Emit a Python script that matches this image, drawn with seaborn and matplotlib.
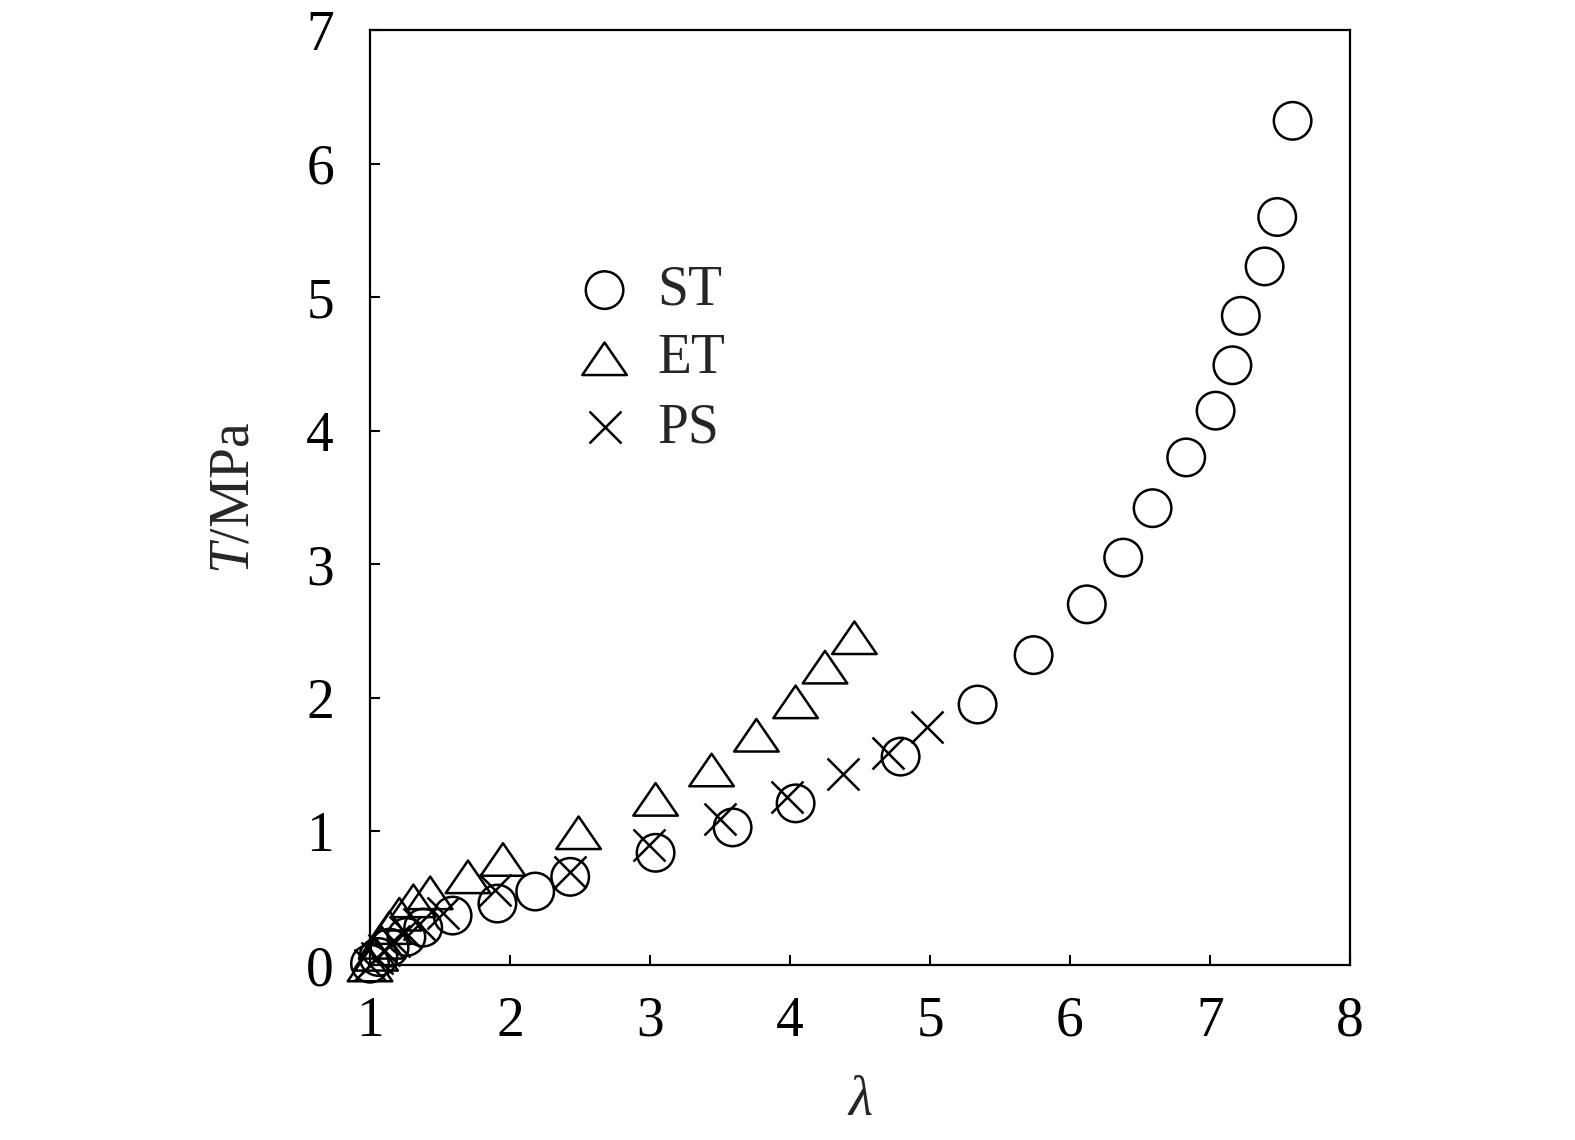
import matplotlib
matplotlib.use("Agg")
import matplotlib.pyplot as plt
import seaborn as sns
import numpy as np
from matplotlib.path import Path

# ---- data ----
st_x = [1.00, 1.06, 1.14, 1.26, 1.38, 1.59, 1.91, 2.18, 2.43, 3.04, 3.59, 4.04, 4.79,
        5.34, 5.74, 6.12, 6.38, 6.59, 6.83, 7.04, 7.16, 7.22, 7.39, 7.48, 7.59]
st_y = [0.01, 0.06, 0.13, 0.21, 0.28, 0.37, 0.46, 0.55, 0.66, 0.84, 1.03, 1.21, 1.56,
        1.95, 2.32, 2.70, 3.05, 3.42, 3.80, 4.15, 4.49, 4.86, 5.23, 5.60, 6.32]

et_x = [1.00, 1.04, 1.08, 1.14, 1.21, 1.31, 1.43, 1.70, 1.95, 2.49, 3.04, 3.44, 3.76,
        4.04, 4.25, 4.46]
et_y = [0.00, 0.08, 0.17, 0.28, 0.38, 0.48, 0.54, 0.66, 0.79, 0.99, 1.24, 1.46, 1.72,
        1.97, 2.23, 2.45]

ps_x = [1.00, 1.05, 1.10, 1.17, 1.25, 1.35, 1.52, 1.89, 2.43, 2.99, 3.50, 3.98, 4.38,
        4.70, 4.98]
ps_y = [0.00, 0.05, 0.11, 0.18, 0.25, 0.31, 0.39, 0.56, 0.70, 0.90, 1.09, 1.26, 1.43,
        1.59, 1.78]

labels = ["ST", "ET", "PS"]
x_ticks = [1, 2, 3, 4, 5, 6, 7, 8]
y_ticks = [0, 1, 2, 3, 4, 5, 6, 7]

sns.set_style("ticks")
plt.rcParams["font.family"] = ["Liberation Serif", "DejaVu Serif"]
plt.rcParams["mathtext.fontset"] = "custom"
plt.rcParams["mathtext.rm"] = "Liberation Serif"
plt.rcParams["mathtext.it"] = "Liberation Serif:italic"

fig = plt.figure(figsize=(15.75, 11.4), dpi=100)
ax = fig.add_axes([370/1575, 1 - 965/1140, 980/1575, 935/1140])

tri = Path([(0, 0.73), (-1, -0.73), (1, -0.73), (0, 0.73)],
           [Path.MOVETO, Path.LINETO, Path.LINETO, Path.CLOSEPOLY])

lw = 1.8
sns.scatterplot(x=st_x, y=st_y, ax=ax, marker="o", s=730, facecolors="none",
                edgecolor="black", linewidth=lw, clip_on=False, label=labels[0], zorder=3)
sns.scatterplot(x=et_x, y=et_y, ax=ax, marker=tri, s=1030, facecolors="none",
                edgecolor="black", linewidth=lw, clip_on=False, label=labels[1], zorder=3)
sns.scatterplot(x=ps_x, y=ps_y, ax=ax, marker="x", s=530, color="black",
                linewidth=lw, clip_on=False, label=labels[2], zorder=3)

ax.set_xlim(1, 8)
ax.set_ylim(0, 7)
ax.set_xticks(x_ticks)
ax.set_yticks(y_ticks)
ax.tick_params(axis="both", direction="in", length=7, width=1.5, labelsize=40,
               color="black", labelcolor="black")
ax.tick_params(axis="y", pad=26)
ax.tick_params(axis="x", pad=22)
for sp in ax.spines.values():
    sp.set_visible(True)
    sp.set_linewidth(1.6)
    sp.set_color("black")

ax.set_xlabel(r"$\lambda$", fontsize=40, labelpad=20)
ax.set_ylabel(r"$T$/MPa", fontsize=40, labelpad=33)

leg = ax.legend(loc="upper left", bbox_to_anchor=(0.211, 0.749), frameon=False,
                fontsize=40, handlelength=1.0, handletextpad=0.45, labelspacing=0.30,
                borderpad=0, borderaxespad=0)

fig.savefig("out.png", dpi=100, facecolor="white")
